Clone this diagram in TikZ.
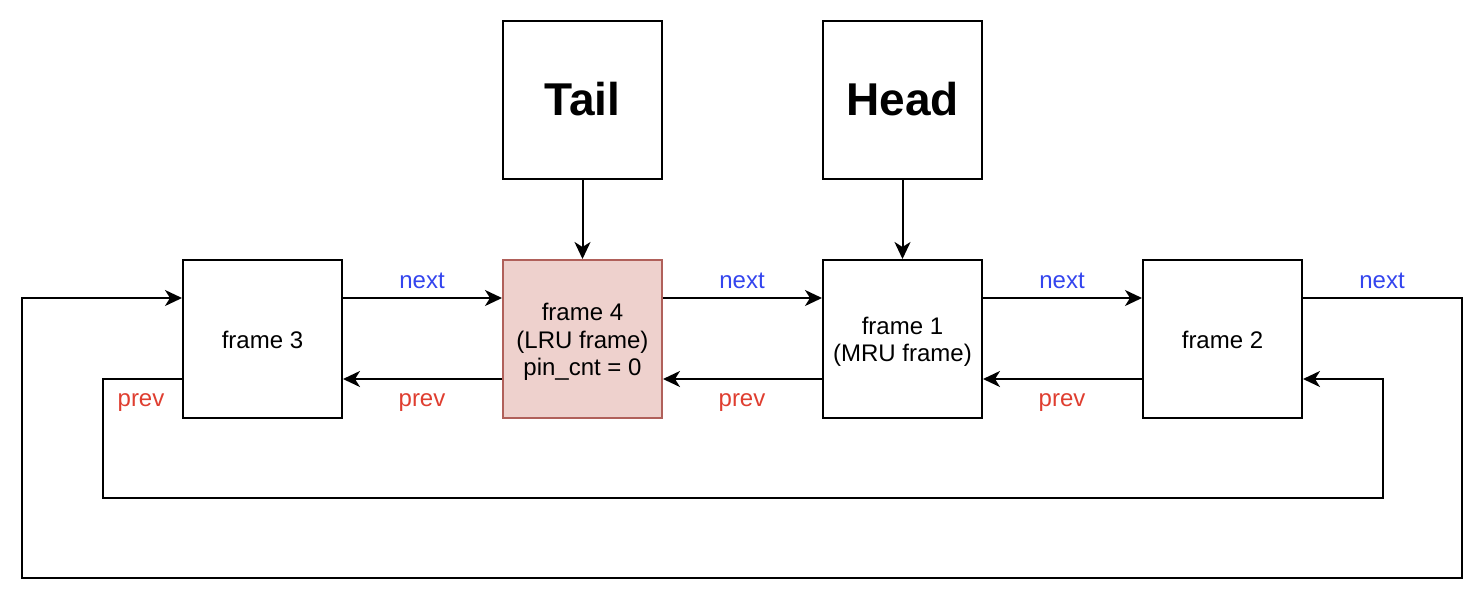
\documentclass[tikz,border=0pt]{standalone}
\usepackage{fontspec}
\setmainfont{Liberation Sans}
\usetikzlibrary{arrows.meta}
\definecolor{nextblue}{HTML}{3344EE}
\definecolor{prevred}{HTML}{DF3E30}
\definecolor{lrufill}{HTML}{EED1CD}
\definecolor{lrudraw}{HTML}{B0605A}
\begin{document}
\begin{tikzpicture}[x=1pt,y=-1pt,
  box/.style={draw=black,line width=2pt,minimum width=159pt,minimum height=158pt,inner sep=0pt},
  boxtext/.style={inner sep=0pt,align=center,font=\fontsize{24}{27.5}\selectfont},
  ptr/.style={draw=black,line width=2pt,minimum width=159pt,minimum height=158pt,inner sep=0pt,font=\bfseries\fontsize{46}{50}\selectfont},
  conn/.style={line width=2pt,-{Stealth[length=17pt,width=16pt,inset=5pt]}},
  lblnext/.style={text=nextblue,font=\fontsize{24}{27}\selectfont,inner sep=0pt},
  lblprev/.style={text=prevred,font=\fontsize{24}{27}\selectfont,inner sep=0pt}]
\useasboundingbox (0,0) rectangle (1484,598);
\node[box] (f3) at (262.5,339) {};
\node[box,fill=lrufill,draw=lrudraw] (f4) at (582.5,339) {};
\node[box] (f1) at (902.5,339) {};
\node[box] (f2) at (1222.5,339) {};
\node[boxtext] (f3t) at (262.5,340) {frame 3};
\node[boxtext] (f4t) at (582.5,342) {frame 4\\(LRU frame)\\pin\_cnt = 0};
\node[boxtext] (f1t) at (902.5,342) {frame 1\\(MRU frame)};
\node[boxtext] (f2t) at (1222.5,340) {frame 2};
\node[ptr] (tail) at (582.5,99.5) {Tail};
\node[ptr] (head) at (902.5,99.5) {Head};
\draw[conn] (tail.south) -- (f4.north);
\draw[conn] (head.south) -- (f1.north);
\draw[conn] ([yshift=41pt]f3.east) -- ([yshift=41pt]f4.west);
\draw[conn] ([yshift=41pt]f4.east) -- ([yshift=41pt]f1.west);
\draw[conn] ([yshift=41pt]f1.east) -- ([yshift=41pt]f2.west);
\draw[conn] ([yshift=-40pt]f4.west) -- ([yshift=-40pt]f3.east);
\draw[conn] ([yshift=-40pt]f1.west) -- ([yshift=-40pt]f4.east);
\draw[conn] ([yshift=-40pt]f2.west) -- ([yshift=-40pt]f1.east);
\coordinate (o1) at (1462,298);
\coordinate (o2) at (1462,578);
\coordinate (o3) at (22,578);
\coordinate (o4) at (22,298);
\draw[conn] ([yshift=41pt]f2.east) -- (o1) -- (o2) -- (o3) -- (o4) -- ([yshift=41pt]f3.west);
\coordinate (i1) at (103,379);
\coordinate (i2) at (103,498);
\coordinate (i3) at (1383,498);
\coordinate (i4) at (1383,379);
\draw[conn] ([yshift=-40pt]f3.west) -- (i1) -- (i2) -- (i3) -- (i4) -- ([yshift=-40pt]f2.east);
\node[lblnext] (n1) at (422,281) {next};
\node[lblnext] (n2) at (742,281) {next};
\node[lblnext] (n3) at (1062,281) {next};
\node[lblnext] (n4) at (1382,281) {next};
\node[lblprev] (p1) at (422,403) {prev};
\node[lblprev] (p2) at (742,403) {prev};
\node[lblprev] (p3) at (1062,403) {prev};
\node[lblprev] (p4) at (141,403) {prev};
\end{tikzpicture}
\end{document}
